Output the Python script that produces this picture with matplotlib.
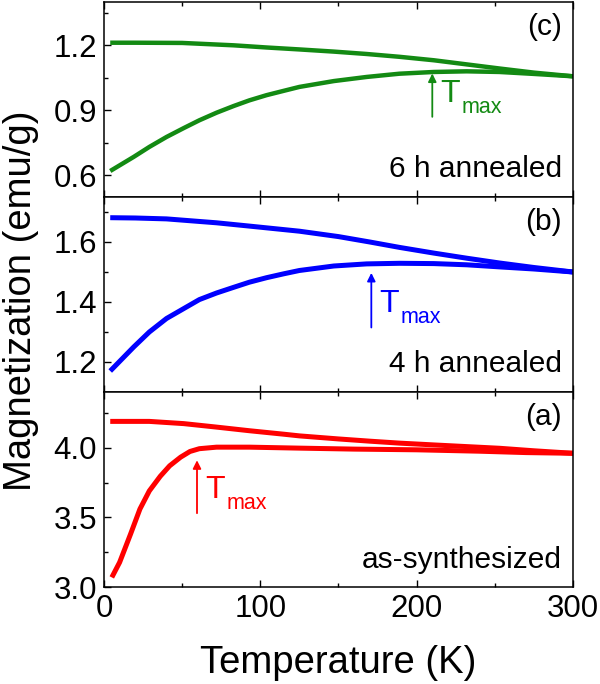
import matplotlib.pyplot as plt
from matplotlib.ticker import MultipleLocator

plt.rcParams['font.family'] = ['Liberation Sans', 'DejaVu Sans']

# (c) 6 h annealed - green
T_c_fc = [4, 20, 50, 83, 104, 125, 147, 168, 189, 211, 232, 253, 275, 300]
M_c_fc = [1.212, 1.212, 1.211, 1.20, 1.19, 1.181, 1.171, 1.16, 1.147, 1.131, 1.112, 1.093,
          1.074, 1.057]
T_c_zfc = [4, 19, 29, 40, 51, 61, 72, 83, 93, 104, 115, 125, 147, 168, 189, 211, 232, 253,
           275, 300]
M_c_zfc = [0.62, 0.685, 0.731, 0.777, 0.818, 0.854, 0.889, 0.92, 0.946, 0.97, 0.99, 1.008,
           1.035, 1.054, 1.069, 1.077, 1.08, 1.077, 1.068, 1.057]

# (b) 4 h annealed - blue
T_b_fc = [4, 20, 40, 72, 93, 125, 150, 170, 189, 211, 232, 253, 275, 300]
M_b_fc = [1.681, 1.68, 1.677, 1.664, 1.653, 1.636, 1.618, 1.6, 1.582, 1.563, 1.546, 1.53,
          1.515, 1.50]
T_b_zfc = [4, 19, 29, 40, 51, 61, 72, 83, 93, 104, 115, 125, 147, 168, 189, 211, 232, 253,
           275, 300]
M_b_zfc = [1.17, 1.25, 1.30, 1.345, 1.378, 1.408, 1.43, 1.449, 1.466, 1.481, 1.494, 1.505,
           1.52, 1.527, 1.529, 1.528, 1.524, 1.517, 1.51, 1.50]

# (a) as-synthesized - red
T_a_fc = [4, 29, 51, 72, 93, 115, 125, 150, 170, 189, 211, 232, 253, 275, 300]
M_a_fc = [4.189, 4.189, 4.173, 4.148, 4.122, 4.097, 4.085, 4.063, 4.047, 4.033, 4.02, 4.008,
          3.996, 3.978, 3.96]
T_a_zfc = [5, 10, 17, 23, 29, 36, 42, 49, 55, 61, 72, 93, 125, 160, 200, 240, 270, 300]
M_a_zfc = [3.069, 3.177, 3.38, 3.56, 3.69, 3.795, 3.87, 3.932, 3.973, 3.993, 4.004, 4.004,
           3.997, 3.99, 3.985, 3.975, 3.965, 3.96]

# Tmax arrows: (T, tail, tip)
tmax = {'c': (210, 0.87, 1.07), 'b': (171, 1.315, 1.497), 'a': (59.5, 3.53, 3.91)}

panels = [
    ('c', 'green', T_c_fc, M_c_fc, T_c_zfc, M_c_zfc, (0.5, 1.4), 0.3, '6 h annealed'),
    ('b', 'blue', T_b_fc, M_b_fc, T_b_zfc, M_b_zfc, (1.1, 1.75), 0.2, '4 h annealed'),
    ('a', 'red', T_a_fc, M_a_fc, T_a_zfc, M_a_zfc, (3.0, 4.4), 0.5, 'as-synthesized'),
]
colors = {'green': '#138a13', 'blue': '#0000ff', 'red': '#ff0000'}

fig = plt.figure(figsize=(6, 6.84), dpi=100)
left, width, h = 0.1733, 0.7817, 0.2851
bottoms = [0.712, 0.4269, 0.1418]

for (key, cname, tf, mf, tz, mz, ylim, step, label), b in zip(panels, bottoms):
    ax = fig.add_axes([left, b, width, h])
    col = colors[cname]
    lw = 3.2 if cname == 'green' else 3.6
    ax.plot(tf, mf, color=col, lw=lw, solid_capstyle='butt')
    ax.plot(tz, mz, color=col, lw=lw, solid_capstyle='butt')
    ax.set_xlim(0, 300)
    ax.set_ylim(*ylim)
    ax.xaxis.set_major_locator(MultipleLocator(100))
    ax.xaxis.set_minor_locator(MultipleLocator(50))
    ax.yaxis.set_major_locator(MultipleLocator(step))
    ax.yaxis.set_minor_locator(MultipleLocator(step / 2))
    ax.tick_params(which='both', direction='in', top=True, right=False, width=1.0)
    ax.tick_params(which='major', length=5, labelsize=22.5, pad=5)
    ax.tick_params(which='minor', length=3)
    for s in ax.spines.values():
        s.set_linewidth(1.1)
    if key != 'a':
        ax.tick_params(labelbottom=False)
    ax.text(0.9765, 0.83, '(%s)' % key, transform=ax.transAxes, ha='right',
            va='baseline', fontsize=21.5)
    ax.text(0.9765, 0.10, label, transform=ax.transAxes, ha='right',
            va='baseline', fontsize=21.5)
    # Tmax arrow and label
    tx, y0, y1 = tmax[key]
    ax.annotate('', xy=(tx, y1), xytext=(tx, y0),
                arrowprops=dict(arrowstyle='-|>', color=col, lw=1.3,
                                mutation_scale=12, shrinkA=0, shrinkB=0))
    ax.annotate('T', xy=(tx, y0), xytext=(6, 11), textcoords='offset points',
                color=col, fontsize=23, ha='left', va='baseline')
    ax.annotate('max', xy=(tx, y0), xytext=(21, 3), textcoords='offset points',
                color=col, fontsize=15.5, ha='left', va='baseline')

fig.text(0.035, 0.56, 'Magnetization (emu/g)', rotation=90, ha='center',
         va='center', fontsize=27.5)
fig.text(0.564, 0.016, 'Temperature (K)', ha='center', va='baseline', fontsize=27.5)

fig.savefig('out.png', dpi=100)
